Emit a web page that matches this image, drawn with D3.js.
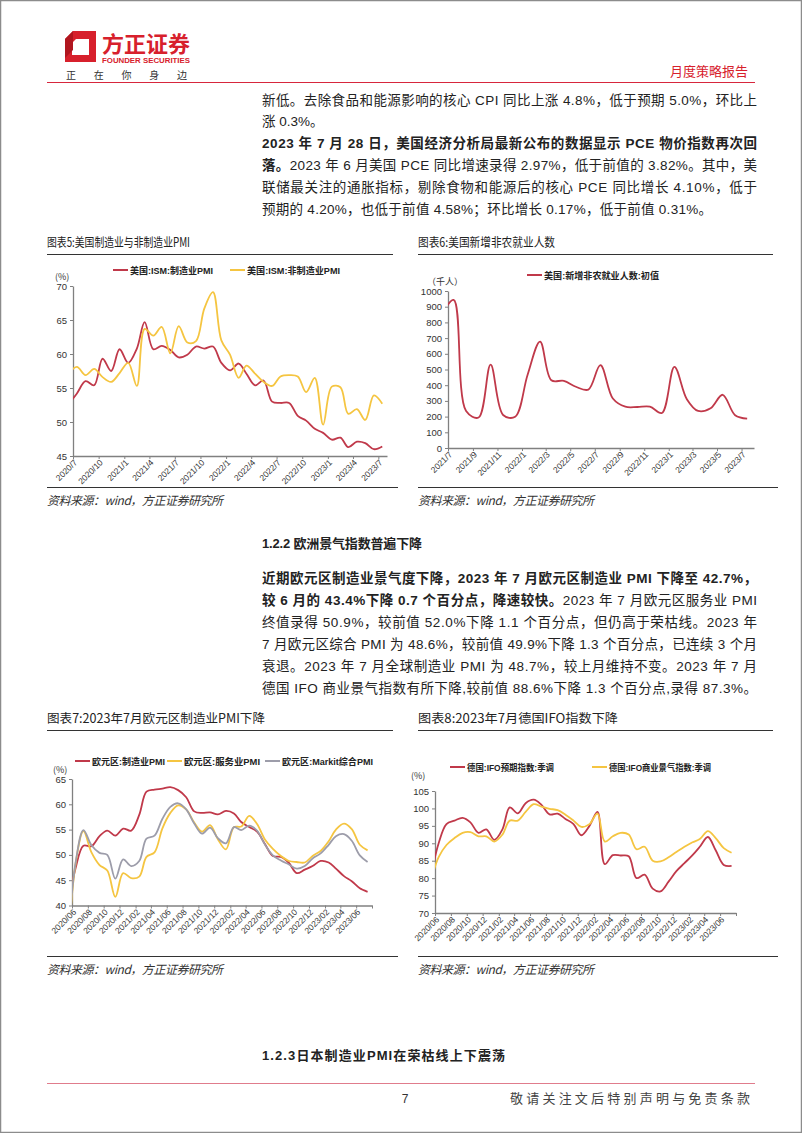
<!DOCTYPE html>
<html><head><meta charset="utf-8">
<script src="https://cdn.jsdelivr.net/npm/d3@7"></script>
<style>
body{margin:0;background:#fff;}
svg{display:block;font-family:"Liberation Sans","Noto Sans CJK SC",sans-serif;}
</style>
</head><body>
<svg id="page" width="802" height="1133"></svg>
<script>
// ---------------- DATA ----------------
// Chart 5: US ISM PMI, monthly 2020/06 .. 2023/07 (first month sits left of the axis and is clipped)
const ismStart = "2020/06";
const ismMfg    = [52.6,54.2,56.0,55.4,59.3,57.5,60.7, 58.7,60.8,64.7,60.7,61.2,60.6,59.5,59.9,61.1,60.8,61.1,58.7, 57.6,58.6,57.1,55.4,56.1,53.0,52.8,52.8,50.9,50.2,49.0,48.4, 47.4,47.7,46.3,47.1,46.9,46.0,46.4];
const ismNonMfg = [57.1,58.1,56.9,57.8,56.6,55.9,57.2, 58.7,55.3,63.7,62.7,64.0,60.1,64.1,61.7,61.9,66.7,69.1,62.0, 59.9,56.5,58.3,57.1,55.9,55.3,56.7,56.9,56.7,54.4,56.5,49.6, 55.2,55.1,51.2,51.9,50.3,53.9,52.7];
const ticks5 = ["2020/7","2020/10","2021/1","2021/4","2021/7","2021/10","2022/1","2022/4","2022/7","2022/10","2023/1","2023/4","2023/7"];

// Chart 6: US nonfarm payrolls (initial), thousand, 2021/06 .. 2023/07
const nfpStart = "2021/06";
const nfp = [850,943,235,194,531,210,199, 467,678,431,428,390,372,528,315,263,261,263,223, 517,311,236,253,339,209,187];
const ticks6 = ["2021/7","2021/9","2021/11","2022/1","2022/3","2022/5","2022/7","2022/9","2022/11","2023/1","2023/3","2023/5","2023/7"];

// Chart 7: Eurozone PMI, 2020/05 .. 2023/07
const ezStart = "2020/05";
const ezMfg  = [39.4,47.4,51.8,51.7,53.7,54.8,53.8,55.2, 54.8,57.9,62.5,62.9,63.1,63.4,62.8,61.4,58.6,58.3,58.4,58.0, 58.7,58.2,56.5,55.5,54.6,52.1,49.8,49.6,48.4,46.4,47.1,47.8, 48.8,48.5,47.3,45.8,44.8,43.4,42.7];
const ezSvc  = [30.5,48.3,54.7,50.5,48.0,46.9,41.7,46.4, 45.4,45.7,49.6,50.5,55.2,58.3,59.8,59.0,56.4,54.6,55.9,53.1, 51.1,55.5,55.6,57.7,56.1,53.0,51.2,49.8,48.8,48.6,48.5,49.8, 50.8,52.7,55.0,56.2,55.1,52.0,50.9];
const ezComp = [31.9,48.5,54.9,51.9,50.4,50.0,45.3,49.1, 47.8,48.8,53.2,53.8,57.1,59.5,60.2,59.0,56.2,54.2,55.4,53.3, 52.3,55.5,54.9,55.8,54.8,52.0,49.9,48.9,48.1,47.3,47.8,49.3, 50.3,52.0,53.7,54.1,52.8,49.9,48.6];
const ticks78 = ["2020/06","2020/08","2020/10","2020/12","2021/02","2021/04","2021/06","2021/08","2021/10","2021/12","2022/02","2022/04","2022/06","2022/08","2022/10","2022/12","2023/02","2023/04","2023/06"];

// Chart 8: Germany IFO, 2020/05 .. 2023/07
const ifoStart = "2020/05";
const ifoExp = [80.0,90.0,95.5,96.5,97.3,96.0,93.0,94.0, 91.0,94.0,100.3,98.6,101.5,102.5,101.0,98.3,98.5,97.0,95.5,92.3, 95.0,99.0,84.0,86.6,86.5,86.3,80.0,81.0,77.0,76.2,79.0,82.0, 84.3,86.6,89.0,91.8,88.0,83.8,83.5];
const ifoBiz = [79.0,86.0,89.5,91.5,93.0,93.2,92.0,92.0, 90.5,92.5,96.5,96.5,99.0,101.2,100.5,99.9,99.5,98.2,96.5,94.7, 95.5,98.5,90.5,92.0,93.0,92.5,88.3,89.0,85.0,84.8,86.0,87.5, 89.0,90.3,91.2,93.5,91.5,88.6,87.3];

// ---------------- PAGE ----------------
const RED = "#C0394A", YEL = "#F5C541", GRY = "#9D9DAA";
const svg = d3.select("#page");
svg.append("rect").attr("width",802).attr("height",1133).attr("fill","#fff");
svg.append("rect").attr("x",0.5).attr("y",0.5).attr("width",801).attr("height",1132)
   .attr("fill","none").attr("stroke","#8c8c8c").attr("stroke-width",1.5);

// header
svg.append("path").attr("d","M73,31 L96,31 L96,62 L65,62 L65,39 Z").attr("fill","#D7202C");
svg.append("path").attr("d","M76,39 L89,39 L89,55 L72,55 L72,43 Z").attr("fill","#fff");
svg.append("path").attr("d","M65,39 L73,31 L73,50 L65,58 Z").attr("fill","#B0161F");
svg.append("text").attr("x",102).attr("y",52).attr("font-size",22).attr("font-weight","bold")
   .attr("fill","#D7202C").attr("textLength",88).attr("lengthAdjust","spacingAndGlyphs")
   .attr("font-family","Noto Sans CJK SC").text("方正证券");
svg.append("text").attr("x",102).attr("y",63).attr("font-size",8).attr("font-weight","bold")
   .attr("fill","#D7202C").attr("textLength",88).attr("lengthAdjust","spacingAndGlyphs").text("FOUNDER SECURITIES");
svg.append("text").attr("x",66).attr("y",79).attr("font-size",10).attr("fill","#333")
   .attr("textLength",121).attr("lengthAdjust","spacing").attr("font-family","Noto Sans CJK SC").text("正在你身边");
svg.append("text").attr("x",748).attr("y",76).attr("text-anchor","end").attr("font-size",13)
   .attr("fill","#D7202C").attr("font-family","Noto Sans CJK SC").text("月度策略报告");
svg.append("line").attr("x1",47).attr("x2",755).attr("y1",82.5).attr("y2",82.5).attr("stroke","#D7263D").attr("stroke-width",1.2);

// text helper
function textLine(x, y, segs, width, size) {
  const t = svg.append("text").attr("x",x).attr("y",y).attr("font-size",size||13.5).attr("fill","#222");
  segs.forEach(s => t.append("tspan").attr("font-weight", s[1] ? "bold" : "normal").text(s[0]));
  if (width) t.attr("textLength",width).attr("lengthAdjust","spacing");
  return t;
}
const TX = 262, TW = 495;
textLine(TX,105,[["新低。去除食品和能源影响的核心 CPI 同比上涨 4.8%，低于预期 5.0%，环比上",0]],TW);
textLine(TX,126,[["涨 0.3%。",0]]);
textLine(TX,148,[["2023 年 7 月 28 日，美国经济分析局最新公布的数据显示 PCE 物价指数再次回",1]],TW);
textLine(TX,170,[["落。",1],["2023 年 6 月美国 PCE 同比增速录得 2.97%，低于前值的 3.82%。其中，美",0]],TW);
textLine(TX,192,[["联储最关注的通胀指标，剔除食物和能源后的核心 PCE 同比增长 4.10%，低于",0]],TW);
textLine(TX,214,[["预期的 4.20%，也低于前值 4.58%；环比增长 0.17%，低于前值 0.31%。",0]],450);

textLine(TX,548,[["1.2.2 欧洲景气指数普遍下降",1]],160,13);
textLine(TX,583,[["近期欧元区制造业景气度下降，2023 年 7 月欧元区制造业 PMI 下降至 42.7%，",1]],TW);
textLine(TX,605,[["较 6 月的 43.4%下降 0.7 个百分点，降速较快。",1],["2023 年 7 月欧元区服务业 PMI",0]],TW);
textLine(TX,627,[["终值录得 50.9%，较前值 52.0%下降 1.1 个百分点，但仍高于荣枯线。2023 年",0]],TW);
textLine(TX,649,[["7 月欧元区综合 PMI 为 48.6%，较前值 49.9%下降 1.3 个百分点，已连续 3 个月",0]],TW);
textLine(TX,671,[["衰退。2023 年 7 月全球制造业 PMI 为 48.7%，较上月维持不变。2023 年 7 月",0]],TW);
textLine(TX,693,[["德国 IFO 商业景气指数有所下降,较前值 88.6%下降 1.3 个百分点,录得 87.3%。",0]],TW);

textLine(TX,1060,[["1.2.3日本制造业PMI在荣枯线上下震荡",1]],243,13);

// footer
svg.append("line").attr("x1",47).attr("x2",755).attr("y1",1083.5).attr("y2",1083.5).attr("stroke","#E07C8C").attr("stroke-width",1.2);
svg.append("text").attr("x",405).attr("y",1103).attr("text-anchor","middle").attr("font-size",12).attr("fill","#333").text("7");
svg.append("text").attr("x",510).attr("y",1103).attr("font-size",13).attr("fill","#444")
   .attr("textLength",240).attr("lengthAdjust","spacing").attr("font-family","Noto Sans CJK SC").text("敬请关注文后特别声明与免责条款");

// chart frames (title, rule, source)
function frame(x, x2, yTitle, title, titleW, yRule, ySrc) {
  svg.append("text").attr("x",x).attr("y",yTitle+4.5).attr("font-size",12.5).attr("fill","#222")
     .attr("font-family","Noto Sans CJK SC").attr("textLength",titleW).attr("lengthAdjust","spacingAndGlyphs").text(title);
  svg.append("line").attr("x1",x).attr("x2",x2).attr("y1",yTitle+12.5).attr("y2",yTitle+12.5).attr("stroke","#333").attr("stroke-width",1.2);
  svg.append("line").attr("x1",x).attr("x2",x2+5).attr("y1",yRule).attr("y2",yRule).attr("stroke","#333").attr("stroke-width",1.2);
  svg.append("text").attr("x",x).attr("y",ySrc+4.5).attr("font-size",12).attr("fill","#333").attr("font-style","italic")
     .attr("font-family","Noto Sans CJK SC").attr("textLength",176).attr("lengthAdjust","spacing").text("资料来源：wind，方正证券研究所");
}
frame(47,393,242,"图表5:美国制造业与非制造业PMI",143,487.5,500);
frame(418,773,242,"图表6:美国新增非农就业人数",137,487.5,500);
frame(47,393,718,"图表7:2023年7月欧元区制造业PMI下降",218,956.5,969);
frame(418,773,718,"图表8:2023年7月德国IFO指数下降",200,956.5,969);

// ---------------- CHARTS ----------------
function ym(s){ const p = s.split("/"); return new Date(Date.UTC(+p[0], +p[1]-1, 1)); }
let clipN = 0;
function chart(cfg) {
  const x = d3.scaleUtc().domain([ym(cfg.start), ym(cfg.end)]).range([cfg.x0, cfg.x1]);
  const y = d3.scaleLinear().domain(cfg.yDomain).range([cfg.yB, cfg.yT]);
  const g = svg.append("g");
  const id = "clip" + (clipN++);
  svg.append("clipPath").attr("id", id).append("rect")
     .attr("x", cfg.x0).attr("y", cfg.yT - 30).attr("width", cfg.x1 - cfg.x0).attr("height", cfg.yB - cfg.yT + 30);

  // axes
  const ya = g.append("g").attr("transform", `translate(${cfg.x0},0)`)
     .call(d3.axisLeft(y).tickValues(cfg.yTicks).tickSize(3).tickPadding(3).tickSizeOuter(0).tickFormat(d3.format("d")));
  ya.selectAll("text").attr("font-size", 9.5).attr("fill", "#333").attr("font-family","Liberation Sans");
  const tickDates = cfg.ticks.map(ym).concat(cfg.endTick ? [ym(cfg.end)] : []);
  const xa = g.append("g").attr("transform", `translate(0,${cfg.yB})`)
     .call(d3.axisBottom(x).tickValues(tickDates).tickSize(3).tickSizeOuter(0)
       .tickFormat((d, i) => cfg.ticks[i] || ""));
  xa.selectAll("text").attr("font-size", 8.5).attr("fill", "#333").attr("font-family","Liberation Sans")
     .attr("text-anchor", "end").attr("x", -2).attr("y", 5).attr("dy", "0.35em")
     .attr("transform", "rotate(-45)");
  g.selectAll(".domain").attr("stroke", "#808080").attr("stroke-width", 1.3);
  g.selectAll(".tick line").attr("stroke", "#808080");

  // series
  const months = d3.utcMonth.range(ym(cfg.dataStart), d3.utcMonth.offset(ym(cfg.dataStart), cfg.series[0].values.length));
  const line = d3.line().x(d => x(d[0])).y(d => y(d[1])).curve(d3.curveCatmullRom.alpha(0.5));
  const plot = g.append("g").attr("clip-path", `url(#${id})`);
  cfg.series.forEach(s => {
    const pts = s.values.map((v, i) => [d3.utcDay.offset(months[i], 14), v]);
    plot.append("path").attr("d", line(pts)).attr("fill", "none").attr("stroke", s.color)
       .attr("stroke-width", 1.8).attr("stroke-linejoin", "round");
  });

  // unit
  svg.append("text").attr("x", cfg.unit[0]).attr("y", cfg.unit[1] + 3.5).attr("font-size", 9)
     .attr("fill", "#333").attr("font-family","Noto Sans CJK SC").text(cfg.unit[2]);
  // legend
  cfg.legend.forEach(l => {
    svg.append("line").attr("x1", l.x).attr("x2", l.x + 15).attr("y1", cfg.legendY).attr("y2", cfg.legendY)
       .attr("stroke", l.color).attr("stroke-width", 2);
    svg.append("text").attr("x", l.x + 17).attr("y", cfg.legendY + 3.5).attr("font-size", 9)
       .attr("fill", "#222").attr("font-weight", "bold").attr("textLength", l.w).attr("lengthAdjust", "spacingAndGlyphs")
       .text(l.name);
  });
}

chart({start:"2020/07", end:"2023/08", x0:73, x1:387, yB:456, yT:286, yDomain:[45,70], yTicks:[45,50,55,60,65,70],
  ticks:ticks5, endTick:false, dataStart:ismStart,
  series:[{values:ismMfg,color:RED},{values:ismNonMfg,color:YEL}],
  unit:[55,276,"(%)"], legendY:270,
  legend:[{x:113,color:RED,name:"美国:ISM:制造业PMI",w:83},{x:230,color:YEL,name:"美国:ISM:非制造业PMI",w:93}]});

chart({start:"2021/07", end:"2023/08", x0:448, x1:754, yB:448, yT:291, yDomain:[0,1000], yTicks:d3.range(0,1001,100),
  ticks:ticks6, endTick:false, dataStart:nfpStart,
  series:[{values:nfp,color:RED}],
  unit:[427,281,"（千人）"], legendY:275,
  legend:[{x:527,color:RED,name:"美国:新增非农就业人数:初值",w:115}]});

chart({start:"2020/06", end:"2023/08", x0:72, x1:372, yB:905.5, yT:779, yDomain:[40,65], yTicks:[40,45,50,55,60,65],
  ticks:ticks78, endTick:true, dataStart:ezStart,
  series:[{values:ezMfg,color:RED},{values:ezSvc,color:YEL},{values:ezComp,color:GRY}],
  unit:[53,769,"(%)"], legendY:761,
  legend:[{x:75,color:RED,name:"欧元区:制造业PMI",w:73},{x:167,color:YEL,name:"欧元区:服务业PMI",w:76},{x:265,color:GRY,name:"欧元区:Markit综合PMI",w:91}]});

chart({start:"2020/06", end:"2023/08", x0:435, x1:736, yB:913, yT:791, yDomain:[70,105], yTicks:[70,75,80,85,90,95,100,105],
  ticks:ticks78, endTick:true, dataStart:ifoStart,
  series:[{values:ifoExp,color:RED},{values:ifoBiz,color:YEL}],
  unit:[411,775,"(%)"], legendY:767,
  legend:[{x:450,color:RED,name:"德国:IFO预期指数:季调",w:87},{x:592,color:YEL,name:"德国:IFO商业景气指数:季调",w:102}]});
</script>
</body></html>
